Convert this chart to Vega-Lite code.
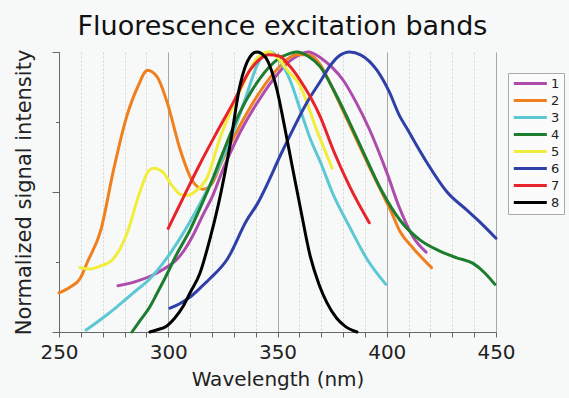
{
  "$schema": "https://vega.github.io/schema/vega-lite/v6.json",
  "width": 437,
  "height": 280,
  "autosize": {"type": "none"},
  "padding": {"left": 59, "top": 52, "right": 73, "bottom": 66},
  "background": "#f7f8f8",
  "config": {
    "view": {"stroke": null},
    "font": "DejaVu Sans"
  },
  "title": {
    "text": "Fluorescence excitation bands",
    "font": "DejaVu Sans",
    "fontSize": 27,
    "fontWeight": "normal",
    "color": "#111111",
    "anchor": "middle",
    "frame": "group",
    "baseline": "alphabetic",
    "offset": -16,
    "dx": 5
  },
  "data": {
    "values": [
      {"s": "1", "x": 277, "y": 0.165}, {"s": "1", "x": 285, "y": 0.18}, {"s": "1", "x": 292, "y": 0.2}, {"s": "1", "x": 298, "y": 0.225}, {"s": "1", "x": 304, "y": 0.26}, {"s": "1", "x": 308, "y": 0.3}, {"s": "1", "x": 311, "y": 0.34}, {"s": "1", "x": 316, "y": 0.42}, {"s": "1", "x": 320.5, "y": 0.49}, {"s": "1", "x": 324, "y": 0.56}, {"s": "1", "x": 333, "y": 0.715}, {"s": "1", "x": 342, "y": 0.834}, {"s": "1", "x": 351, "y": 0.93}, {"s": "1", "x": 356, "y": 0.97}, {"s": "1", "x": 360, "y": 0.99}, {"s": "1", "x": 364, "y": 1.0}, {"s": "1", "x": 370, "y": 0.978}, {"s": "1", "x": 375, "y": 0.945}, {"s": "1", "x": 380, "y": 0.9}, {"s": "1", "x": 386, "y": 0.82}, {"s": "1", "x": 392, "y": 0.725}, {"s": "1", "x": 400, "y": 0.57}, {"s": "1", "x": 406, "y": 0.44}, {"s": "1", "x": 412, "y": 0.34}, {"s": "1", "x": 418, "y": 0.285},
      {"s": "2", "x": 250, "y": 0.14}, {"s": "2", "x": 255, "y": 0.16}, {"s": "2", "x": 259.6, "y": 0.19}, {"s": "2", "x": 263, "y": 0.25}, {"s": "2", "x": 269, "y": 0.36}, {"s": "2", "x": 275, "y": 0.58}, {"s": "2", "x": 281, "y": 0.77}, {"s": "2", "x": 286, "y": 0.875}, {"s": "2", "x": 290.5, "y": 0.935}, {"s": "2", "x": 295, "y": 0.91}, {"s": "2", "x": 299.5, "y": 0.82}, {"s": "2", "x": 305.5, "y": 0.65}, {"s": "2", "x": 311, "y": 0.54}, {"s": "2", "x": 316, "y": 0.51}, {"s": "2", "x": 320, "y": 0.53}, {"s": "2", "x": 324, "y": 0.6}, {"s": "2", "x": 333, "y": 0.74}, {"s": "2", "x": 342, "y": 0.858}, {"s": "2", "x": 350, "y": 0.94}, {"s": "2", "x": 359, "y": 0.99}, {"s": "2", "x": 364, "y": 0.99}, {"s": "2", "x": 370, "y": 0.95}, {"s": "2", "x": 374, "y": 0.89}, {"s": "2", "x": 380, "y": 0.79}, {"s": "2", "x": 386, "y": 0.69}, {"s": "2", "x": 392, "y": 0.59}, {"s": "2", "x": 397, "y": 0.51}, {"s": "2", "x": 402, "y": 0.43}, {"s": "2", "x": 406, "y": 0.36}, {"s": "2", "x": 412, "y": 0.3}, {"s": "2", "x": 420.5, "y": 0.23},
      {"s": "3", "x": 262.4, "y": 0.007}, {"s": "3", "x": 270, "y": 0.05}, {"s": "3", "x": 276.5, "y": 0.09}, {"s": "3", "x": 284, "y": 0.14}, {"s": "3", "x": 291.6, "y": 0.19}, {"s": "3", "x": 299, "y": 0.26}, {"s": "3", "x": 305, "y": 0.33}, {"s": "3", "x": 310, "y": 0.395}, {"s": "3", "x": 316, "y": 0.48}, {"s": "3", "x": 322, "y": 0.57}, {"s": "3", "x": 327, "y": 0.66}, {"s": "3", "x": 331.5, "y": 0.75}, {"s": "3", "x": 336, "y": 0.85}, {"s": "3", "x": 340, "y": 0.94}, {"s": "3", "x": 344, "y": 0.995}, {"s": "3", "x": 347, "y": 1.0}, {"s": "3", "x": 351, "y": 0.97}, {"s": "3", "x": 355.7, "y": 0.9}, {"s": "3", "x": 361, "y": 0.78}, {"s": "3", "x": 365, "y": 0.69}, {"s": "3", "x": 370, "y": 0.6}, {"s": "3", "x": 375, "y": 0.5}, {"s": "3", "x": 383, "y": 0.375}, {"s": "3", "x": 391, "y": 0.26}, {"s": "3", "x": 399.6, "y": 0.17},
      {"s": "4", "x": 283.4, "y": 0.0}, {"s": "4", "x": 287, "y": 0.04}, {"s": "4", "x": 291.6, "y": 0.09}, {"s": "4", "x": 295, "y": 0.14}, {"s": "4", "x": 299, "y": 0.2}, {"s": "4", "x": 304, "y": 0.28}, {"s": "4", "x": 310, "y": 0.365}, {"s": "4", "x": 315, "y": 0.45}, {"s": "4", "x": 320.5, "y": 0.55}, {"s": "4", "x": 324, "y": 0.62}, {"s": "4", "x": 332.5, "y": 0.78}, {"s": "4", "x": 342, "y": 0.906}, {"s": "4", "x": 349.6, "y": 0.971}, {"s": "4", "x": 355.7, "y": 0.995}, {"s": "4", "x": 359, "y": 1.0}, {"s": "4", "x": 364, "y": 0.985}, {"s": "4", "x": 369.5, "y": 0.948}, {"s": "4", "x": 376, "y": 0.86}, {"s": "4", "x": 383, "y": 0.748}, {"s": "4", "x": 390, "y": 0.63}, {"s": "4", "x": 398, "y": 0.5}, {"s": "4", "x": 406, "y": 0.4}, {"s": "4", "x": 415, "y": 0.33}, {"s": "4", "x": 424, "y": 0.29}, {"s": "4", "x": 432, "y": 0.265}, {"s": "4", "x": 439.5, "y": 0.245}, {"s": "4", "x": 445, "y": 0.21}, {"s": "4", "x": 449.5, "y": 0.17},
      {"s": "5", "x": 259.6, "y": 0.23}, {"s": "5", "x": 264, "y": 0.225}, {"s": "5", "x": 268.8, "y": 0.235}, {"s": "5", "x": 274.7, "y": 0.26}, {"s": "5", "x": 281, "y": 0.35}, {"s": "5", "x": 287, "y": 0.5}, {"s": "5", "x": 291, "y": 0.575}, {"s": "5", "x": 293.5, "y": 0.585}, {"s": "5", "x": 297.6, "y": 0.57}, {"s": "5", "x": 302, "y": 0.52}, {"s": "5", "x": 306, "y": 0.49}, {"s": "5", "x": 309, "y": 0.488}, {"s": "5", "x": 312, "y": 0.5}, {"s": "5", "x": 317.7, "y": 0.55}, {"s": "5", "x": 324, "y": 0.7}, {"s": "5", "x": 332.8, "y": 0.86}, {"s": "5", "x": 340.4, "y": 0.975}, {"s": "5", "x": 346, "y": 1.0}, {"s": "5", "x": 350, "y": 0.98}, {"s": "5", "x": 355, "y": 0.93}, {"s": "5", "x": 360, "y": 0.885}, {"s": "5", "x": 368, "y": 0.72}, {"s": "5", "x": 375, "y": 0.585},
      {"s": "6", "x": 300.8, "y": 0.085}, {"s": "6", "x": 305, "y": 0.1}, {"s": "6", "x": 310, "y": 0.125}, {"s": "6", "x": 315, "y": 0.16}, {"s": "6", "x": 319, "y": 0.19}, {"s": "6", "x": 327, "y": 0.26}, {"s": "6", "x": 336, "y": 0.4}, {"s": "6", "x": 340.5, "y": 0.454}, {"s": "6", "x": 352.5, "y": 0.65}, {"s": "6", "x": 363.5, "y": 0.82}, {"s": "6", "x": 370, "y": 0.9}, {"s": "6", "x": 374, "y": 0.95}, {"s": "6", "x": 378, "y": 0.985}, {"s": "6", "x": 383, "y": 1.0}, {"s": "6", "x": 388, "y": 0.99}, {"s": "6", "x": 395.5, "y": 0.935}, {"s": "6", "x": 401, "y": 0.86}, {"s": "6", "x": 406, "y": 0.77}, {"s": "6", "x": 409, "y": 0.73}, {"s": "6", "x": 418, "y": 0.61}, {"s": "6", "x": 427.6, "y": 0.5}, {"s": "6", "x": 436.7, "y": 0.435}, {"s": "6", "x": 443, "y": 0.39}, {"s": "6", "x": 450, "y": 0.335},
      {"s": "7", "x": 300, "y": 0.37}, {"s": "7", "x": 305, "y": 0.45}, {"s": "7", "x": 310, "y": 0.53}, {"s": "7", "x": 314.5, "y": 0.6}, {"s": "7", "x": 322, "y": 0.71}, {"s": "7", "x": 329.8, "y": 0.82}, {"s": "7", "x": 337.4, "y": 0.935}, {"s": "7", "x": 342, "y": 0.975}, {"s": "7", "x": 346, "y": 0.99}, {"s": "7", "x": 351, "y": 0.985}, {"s": "7", "x": 355, "y": 0.955}, {"s": "7", "x": 360.3, "y": 0.9}, {"s": "7", "x": 369.5, "y": 0.77}, {"s": "7", "x": 375.5, "y": 0.65}, {"s": "7", "x": 383, "y": 0.52}, {"s": "7", "x": 392, "y": 0.39},
      {"s": "8", "x": 291.6, "y": 0.0}, {"s": "8", "x": 295, "y": 0.008}, {"s": "8", "x": 299, "y": 0.02}, {"s": "8", "x": 303, "y": 0.05}, {"s": "8", "x": 306.7, "y": 0.09}, {"s": "8", "x": 310, "y": 0.14}, {"s": "8", "x": 314.5, "y": 0.21}, {"s": "8", "x": 319, "y": 0.33}, {"s": "8", "x": 322.9, "y": 0.454}, {"s": "8", "x": 328.3, "y": 0.668}, {"s": "8", "x": 332.8, "y": 0.88}, {"s": "8", "x": 337.4, "y": 0.983}, {"s": "8", "x": 340.5, "y": 1.0}, {"s": "8", "x": 344.3, "y": 0.983}, {"s": "8", "x": 349.6, "y": 0.87}, {"s": "8", "x": 353.4, "y": 0.727}, {"s": "8", "x": 357.2, "y": 0.573}, {"s": "8", "x": 360.3, "y": 0.45}, {"s": "8", "x": 365, "y": 0.27}, {"s": "8", "x": 369, "y": 0.17}, {"s": "8", "x": 372.6, "y": 0.105}, {"s": "8", "x": 377, "y": 0.05}, {"s": "8", "x": 381, "y": 0.02}, {"s": "8", "x": 386.4, "y": 0.0}
    ]
  },
  "mark": {"type": "line", "interpolate": "monotone", "strokeWidth": 3, "strokeCap": "round"},
  "encoding": {
    "x": {
      "field": "x",
      "type": "quantitative",
      "scale": {"domain": [250, 450], "nice": false, "zero": false},
      "axis": {
        "values": [250, 260, 270, 280, 290, 300, 310, 320, 330, 340, 350, 360, 370, 380, 390, 400, 410, 420, 430, 440, 450],
        "labelExpr": "datum.value % 50 === 0 ? datum.label : ''",
        "labelOverlap": false,
        "labelFlush": false,
        "labelFont": "DejaVu Sans",
        "labelFontSize": 20,
        "labelColor": "#222222",
        "labelPadding": 5,
        "tickSize": 5,
        "tickColor": "#666666",
        "domainColor": "#666666",
        "grid": true,
        "gridColor": {"condition": {"test": "datum.value % 50 === 0", "value": "#a8a8a8"}, "value": "#d4d4d4"},
        "gridDash": {"condition": {"test": "datum.value % 50 === 0", "value": []}, "value": [2, 2]},
        "title": "Wavelength (nm)",
        "titleFont": "DejaVu Sans",
        "titleFontSize": 20,
        "titleFontWeight": "normal",
        "titleColor": "#222222",
        "titlePadding": 7
      }
    },
    "y": {
      "field": "y",
      "type": "quantitative",
      "scale": {"domain": [0, 1], "nice": false},
      "axis": {
        "values": [0, 0.25, 0.5, 0.75, 1],
        "labels": false,
        "grid": false,
        "tickSize": {"condition": {"test": "datum.value === 0.25 || datum.value === 0.75", "value": 3.5}, "value": 7},
        "tickColor": "#666666",
        "domainColor": "#666666",
        "title": "Normalized signal intensity",
        "titleFont": "DejaVu Sans",
        "titleFontSize": 21,
        "titleFontWeight": "normal",
        "titleColor": "#222222",
        "titlePadding": 17
      }
    },
    "color": {
      "field": "s",
      "type": "nominal",
      "scale": {
        "domain": ["1", "2", "3", "4", "5", "6", "7", "8"],
        "range": ["#ad4cad", "#f07f1d", "#5cc8d4", "#1c7d2e", "#f0ee3a", "#2e3fa8", "#e8232a", "#000000"]
      },
      "legend": {
        "title": null,
        "orient": "none",
        "legendX": 449,
        "legendY": 21,
        "padding": 4,
        "strokeColor": "#aaaaaa",
        "fillColor": "#fbfbfb",
        "symbolType": "M-1,0H6",
        "symbolSize": 89,
        "symbolStrokeWidth": 3,
        "labelFont": "DejaVu Sans",
        "labelFontSize": 13,
        "labelColor": "#222222",
        "labelOffset": 26,
        "rowPadding": 3
      }
    }
  }
}
